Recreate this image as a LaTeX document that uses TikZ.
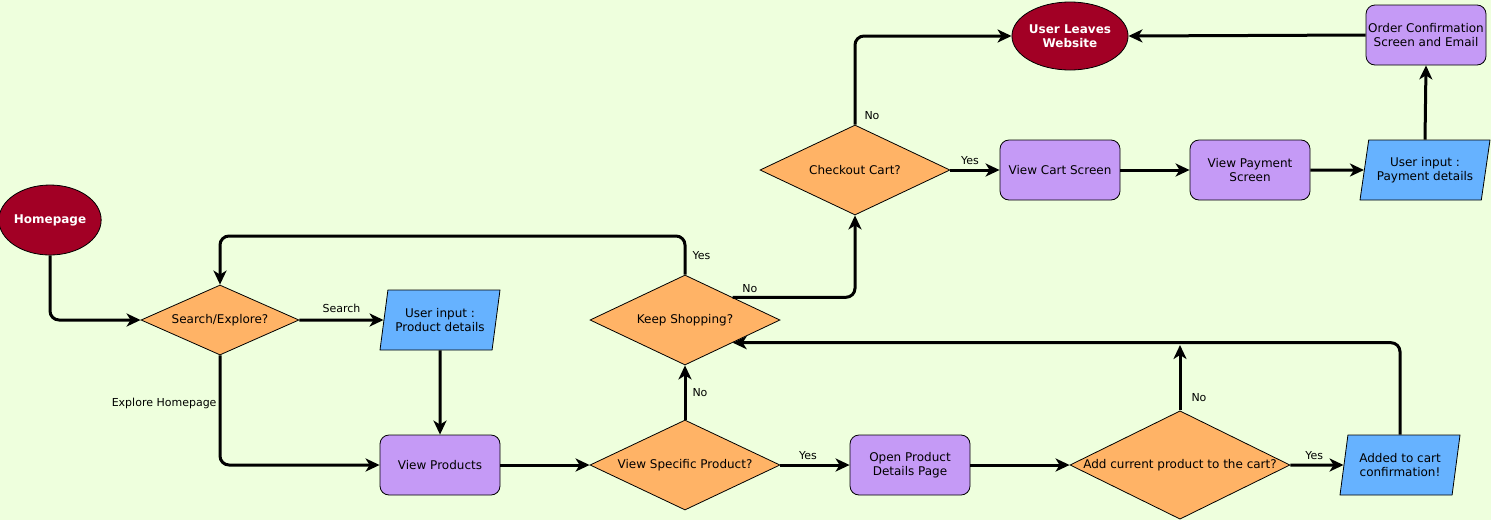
\documentclass[tikz,border=0pt]{standalone}
\usepackage{fontspec}
\setmainfont{DejaVu Sans}
\usetikzlibrary{shapes.geometric,arrows.meta}
\definecolor{bgc}{HTML}{EEFFDD}
\definecolor{endred}{HTML}{A20025}
\definecolor{pagebox}{HTML}{C59AF6}
\definecolor{askbox}{HTML}{FFB366}
\definecolor{inputbox}{HTML}{66B2FF}
\begin{document}
\begin{tikzpicture}[x=1pt, y=-1pt,
    base/.style = {draw, line width=0.8pt, align=center, font=\fontsize{12}{14.5}\selectfont},
    terminal/.style = {base, ellipse, fill=endred, text=white, font=\fontsize{12}{14.5}\selectfont\bfseries, minimum width=100pt, minimum height=70pt, inner sep=0pt},
    stepbox/.style = {base, rectangle, rounded corners=9pt, fill=pagebox, minimum width=120pt, minimum height=60pt, inner sep=0pt},
    choice/.style = {base, diamond, fill=askbox, shape aspect=2, inner sep=0pt},
    inputbox/.style = {base, trapezium, trapezium left angle=71.57, trapezium right angle=108.43, trapezium stretches body=true, fill=inputbox, minimum height=60pt, inner sep=0pt},
    link/.style = {line width=3pt, -{Stealth[length=14pt, width=13pt, inset=4pt]}, rounded corners=9pt},
    lbl/.style = {font=\fontsize{11}{13}\selectfont, inner sep=2pt}]
    \fill[bgc] (0,0) rectangle (1491,520);
    \useasboundingbox (0,0) rectangle (1491,520);
    % nodes
    \node[terminal] (home) at (50,220) {Homepage};
    \node[choice, minimum width=158pt, minimum height=70pt] (search) at (220,320) {Search/Explore?};
    \node[inputbox, minimum width=120pt] (prodin) at (440,320) {User input :\\Product details};
    \node[stepbox] (viewprod) at (440,465) {View Products};
    \node[choice, minimum width=190pt, minimum height=90pt] (viewspec) at (685,465) {View Specific Product?};
    \node[choice, minimum width=190pt, minimum height=90pt] (keep) at (685,320) {Keep Shopping?};
    \node[stepbox] (openprod) at (910,465) {Open Product\\Details Page};
    \node[choice, minimum width=220pt, minimum height=108pt] (addcart) at (1180,465) {Add current product to the cart?};
    \node[inputbox, minimum width=120pt] (added) at (1400,465) {Added to cart\\confirmation!};
    \node[choice, minimum width=190pt, minimum height=90pt] (check) at (855,170) {Checkout Cart?};
    \node[stepbox] (viewcart) at (1060,170) {View Cart Screen};
    \node[stepbox] (viewpay) at (1250,170) {View Payment\\Screen};
    \node[inputbox, minimum width=130pt] (payin) at (1425,170) {User input :\\Payment details};
    \node[stepbox] (order) at (1426,35) {Order Confirmation\\Screen and Email};
    \node[terminal, minimum height=68pt] (leave) at (1070,36) {User Leaves\\Website};
    \coordinate (noend) at (1180,345);
    \coordinate (loopa) at (685,236);
    % connectors
    \draw[link] (home.south) |- (search.west);
    \draw[link] (search.east) -- node[lbl, above=4pt]{Search} (prodin.west);
    \draw[link] (search.south) |- node[lbl, left, pos=0.22]{Explore Homepage} (viewprod.west);
    \draw[link] (prodin.south) -- (viewprod.north);
    \draw[link] (viewprod.east) -- (viewspec.west);
    \draw[link] (viewspec.north) -- node[lbl, right=4pt]{No} (keep.south);
    \draw[link] (viewspec.east) -- node[lbl, above=2pt, pos=0.4]{Yes} (openprod.west);
    \draw[link] (openprod.east) -- (addcart.west);
    \draw[link] (addcart.east) -- node[lbl, above=2pt, pos=0.45]{Yes} (added.west);
    \draw[link] (addcart.north) -- node[lbl, right=8pt, pos=0.2]{No} (noend);
    \draw[link] (added.center |- added.north) |- (keep.south east);
    \draw[link] (keep.north) -- node[lbl, right=4pt]{Yes} (loopa) -| (search.north);
    \draw[link] (keep.north east) -| node[lbl, above=1pt, pos=0.07]{No} (check.south);
    \draw[link] (check.north) |- node[lbl, right=6pt, pos=0.05]{No} (leave.west);
    \draw[link] (check.east) -- node[lbl, above=2pt, pos=0.4]{Yes} (viewcart.west);
    \draw[link] (viewcart.east) -- (viewpay.west);
    \draw[link] (viewpay.east) -- (payin.west);
    \draw[link] (payin.center |- payin.north) -- (order.south);
    \draw[link] (order.west) -- (leave.east);
\end{tikzpicture}
\end{document}
